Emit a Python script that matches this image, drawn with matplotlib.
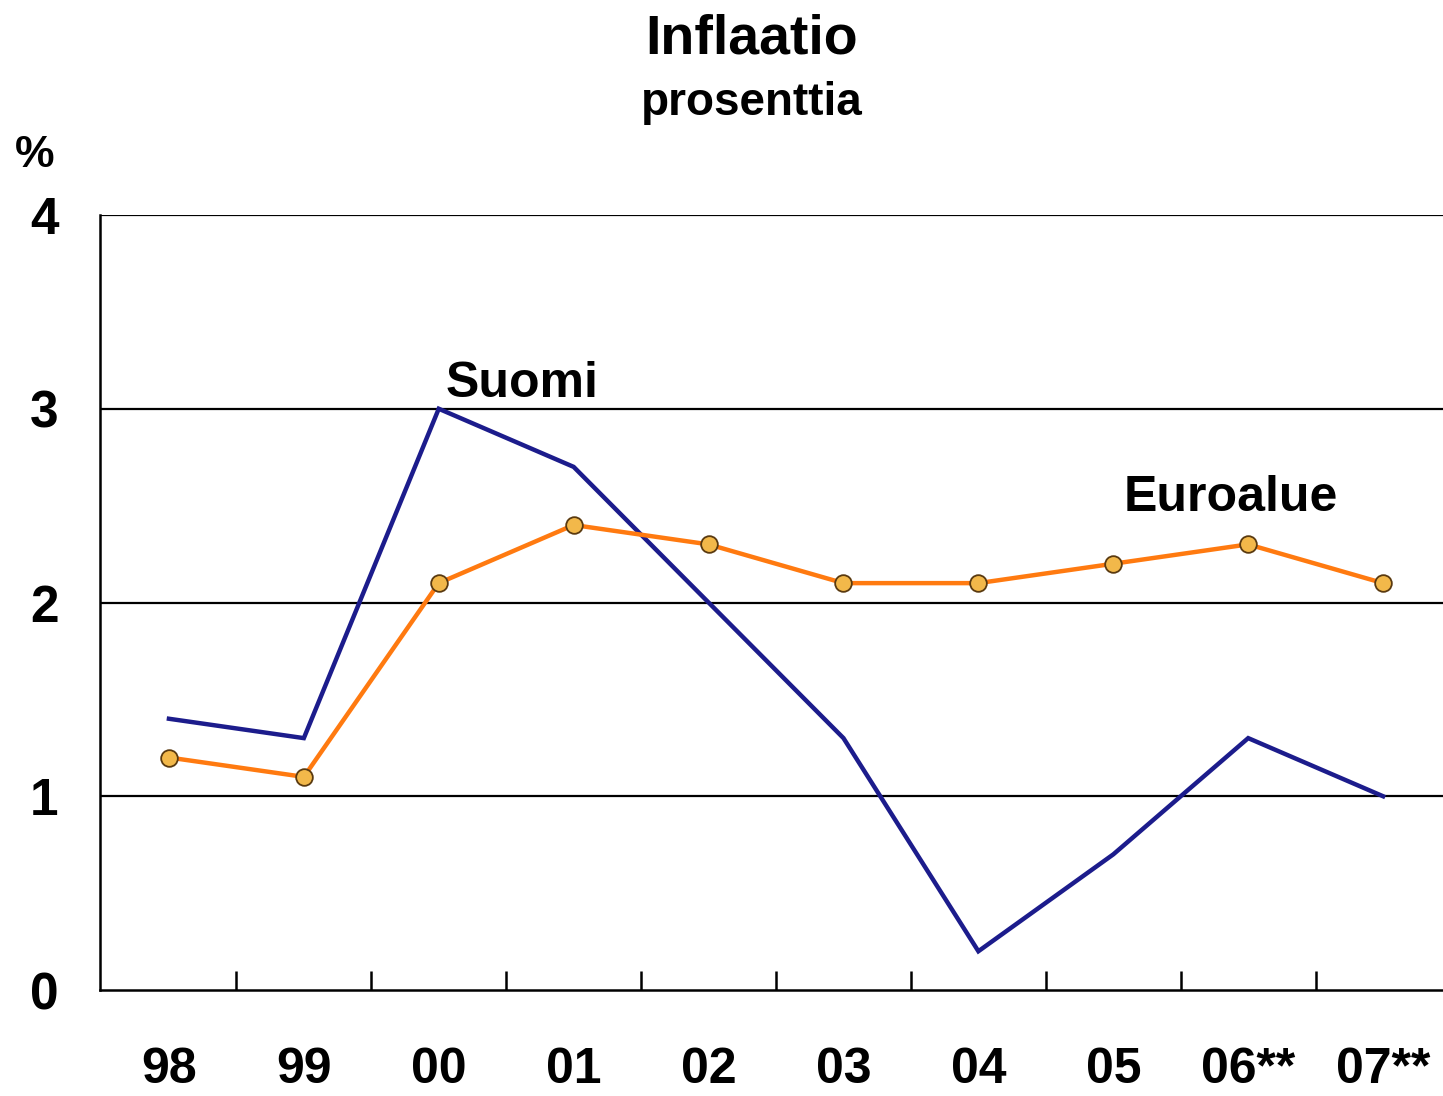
import matplotlib
matplotlib.use("Agg")
import matplotlib.pyplot as plt
from matplotlib.ticker import FixedLocator

years = ["98", "99", "00", "01", "02", "03", "04", "05", "06**", "07**"]
suomi = [1.4, 1.3, 3.0, 2.7, 2.0, 1.3, 0.2, 0.7, 1.3, 1.0]
euroalue = [1.2, 1.1, 2.1, 2.4, 2.3, 2.1, 2.1, 2.2, 2.3, 2.1]
yticks = [0, 1, 2, 3, 4]

plt.rcParams['font.family'] = ['Liberation Sans', 'DejaVu Sans']
plt.rcParams['font.weight'] = 'bold'

W, H = 1443, 1096
fig = plt.figure(figsize=(W / 100, H / 100), dpi=100)
fig.patch.set_facecolor('white')
ax = fig.add_axes([100 / W, 1 - 990 / H, 1 - 100 / W, (990 - 215) / H])

x = list(range(len(years)))
ax.plot(x, suomi, color='#1c1c8c', lw=3.2, solid_joinstyle='miter', zorder=3)
ax.plot(x, euroalue, color='#ff7a10', lw=3.2, zorder=4,
        marker='o', markersize=12, markerfacecolor='#f2b84a',
        markeredgecolor='#5a3a10', markeredgewidth=1.3)

ax.set_xlim(-0.511, 9.444)
ax.set_ylim(0, 4)
ax.set_yticks(yticks)
ax.set_yticklabels([str(v) for v in yticks], fontsize=37, fontweight='bold')
ax.tick_params(axis='y', length=0, pad=30)

ax.set_xticks(x)
ax.set_xticklabels(years, fontsize=36, fontweight='bold')
ax.tick_params(axis='x', which='major', length=0, pad=41)
ax.xaxis.set_minor_locator(FixedLocator([i + 0.5 for i in range(len(years) - 1)]))
ax.tick_params(axis='x', which='minor', direction='in', length=14, width=1.8, color='black')

for v in [1, 2, 3, 4]:
    ax.axhline(v, color='black', lw=1.6, zorder=1)

for s in ['top', 'right']:
    ax.spines[s].set_visible(False)
for s in ['left', 'bottom']:
    ax.spines[s].set_linewidth(1.8)
    ax.spines[s].set_color('black')

ax.text(2.62, 3.13, "Suomi", fontsize=36, fontweight='bold', ha='center', va='center')
ax.text(7.87, 2.54, "Euroalue", fontsize=36, fontweight='bold', ha='center', va='center')

fig.text(752 / W, 1 - 40 / H, "Inflaatio", fontsize=40, fontweight='bold', ha='center', va='center')
fig.text(752 / W, 1 - 103 / H, "prosenttia", fontsize=33, fontweight='bold', ha='center', va='center')
fig.text(35 / W, 1 - 155 / H, "%", fontsize=32, fontweight='bold', ha='center', va='center')

fig.savefig("out.png", dpi=100)
